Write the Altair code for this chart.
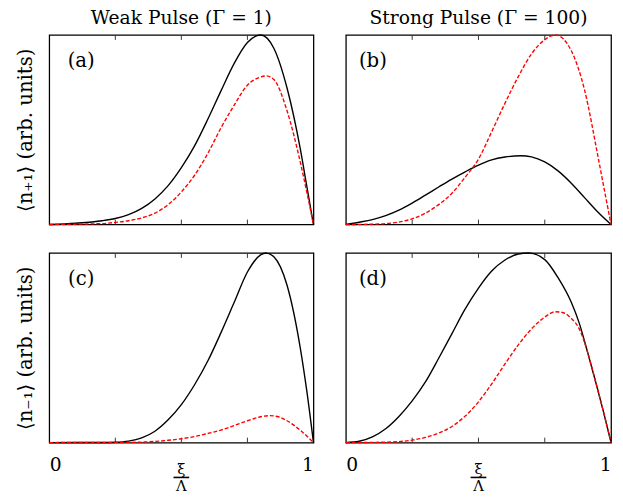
import altair as alt
import pandas as pd

FONT = "DejaVu Serif"
W1, W2, H = 269, 270, 193

# Panel (a): weak pulse, <n_+1>
a_black_x = [0, 0.1, 0.2, 0.25, 0.3, 0.35, 0.4, 0.45, 0.5, 0.55, 0.6, 0.65, 0.7, 0.75, 0.8, 0.85, 0.9, 0.95, 0.975, 1.0]
a_black_y = [0, 0.007, 0.02, 0.032, 0.052, 0.085, 0.135, 0.205, 0.3, 0.415, 0.555, 0.705, 0.85, 0.96, 1.0, 0.93, 0.72, 0.40, 0.2, 0]
a_red_x = [0, 0.2, 0.25, 0.3, 0.35, 0.4, 0.45, 0.5, 0.55, 0.6, 0.65, 0.7, 0.75, 0.8, 0.82, 0.85, 0.9, 0.95, 0.975, 1.0]
a_red_y = [0, 0.005, 0.011, 0.02, 0.035, 0.06, 0.105, 0.172, 0.26, 0.375, 0.51, 0.63, 0.735, 0.778, 0.784, 0.765, 0.60, 0.33, 0.17, 0]

# Panel (b): strong pulse, <n_+1>
b_black_x = [0, 0.05, 0.1, 0.15, 0.2, 0.25, 0.3, 0.35, 0.4, 0.45, 0.5, 0.55, 0.6, 0.66, 0.7, 0.75, 0.8, 0.85, 0.9, 0.95, 1.0]
b_black_y = [0, 0.012, 0.026, 0.047, 0.076, 0.113, 0.155, 0.198, 0.24, 0.278, 0.313, 0.341, 0.356, 0.363, 0.357, 0.33, 0.283, 0.218, 0.142, 0.066, 0]
b_red_x = [0, 0.1, 0.15, 0.2, 0.25, 0.3, 0.35, 0.4, 0.45, 0.5, 0.55, 0.6, 0.65, 0.7, 0.75, 0.79, 0.85, 0.9, 0.95, 0.975, 1.0]
b_red_y = [0, 0.002, 0.005, 0.013, 0.03, 0.06, 0.105, 0.165, 0.25, 0.345, 0.49, 0.64, 0.78, 0.9, 0.975, 1.0, 0.917, 0.71, 0.363, 0.18, 0]

# Panel (c): weak pulse, <n_-1>
c_black_x = [0, 0.2, 0.25, 0.3, 0.35, 0.4, 0.45, 0.5, 0.55, 0.6, 0.65, 0.7, 0.75, 0.8, 0.82, 0.85, 0.9, 0.95, 0.975, 1.0]
c_black_y = [0, 0.0005, 0.002, 0.008, 0.025, 0.06, 0.12, 0.2, 0.305, 0.43, 0.58, 0.74, 0.9, 0.99, 1.0, 0.98, 0.83, 0.5, 0.27, 0]
c_red_x = [0, 0.3, 0.4, 0.45, 0.5, 0.55, 0.6, 0.65, 0.7, 0.75, 0.8, 0.833, 0.87, 0.9, 0.95, 1.0]
c_red_y = [0, 0.001, 0.006, 0.012, 0.02, 0.032, 0.048, 0.066, 0.09, 0.115, 0.136, 0.142, 0.135, 0.115, 0.065, 0]

# Panel (d): strong pulse, <n_-1>
d_black_x = [0, 0.05, 0.1, 0.15, 0.2, 0.25, 0.3, 0.35, 0.4, 0.45, 0.5, 0.55, 0.6, 0.65, 0.69, 0.75, 0.8, 0.85, 0.88, 0.91, 0.94, 0.97, 1.0]
d_black_y = [0, 0.007, 0.03, 0.073, 0.138, 0.22, 0.32, 0.445, 0.575, 0.705, 0.815, 0.905, 0.963, 0.995, 1.0, 0.965, 0.87, 0.74, 0.63, 0.484, 0.33, 0.17, 0]
d_red_x = [0, 0.15, 0.2, 0.25, 0.3, 0.35, 0.4, 0.45, 0.5, 0.55, 0.6, 0.65, 0.7, 0.75, 0.79, 0.82, 0.85, 0.88, 0.91, 0.94, 0.97, 1.0]
d_red_y = [0, 0.002, 0.005, 0.013, 0.027, 0.05, 0.085, 0.14, 0.215, 0.31, 0.415, 0.515, 0.6, 0.662, 0.69, 0.685, 0.655, 0.6, 0.484, 0.33, 0.17, 0]

tick_vals = [0.25, 0.5, 0.75]
label_vals = [0, 1]
col_titles = ["Weak Pulse (Γ = 1)", "Strong Pulse (Γ = 100)"]
row_titles = ["⟨n₊₁⟩ (arb. units)", "⟨n₋₁⟩ (arb. units)"]
panel_labels = ["(a)", "(b)", "(c)", "(d)"]


def panel(bx, by, rx, ry, label, width, label_x, title=None, ytitle=None, bottom=False):
    xscale = alt.Scale(domain=[0, 1], nice=False, zero=False)
    yscale = alt.Scale(domain=[0, 1], nice=False)
    if bottom:
        xaxis = alt.Axis(values=label_vals, ticks=False, domain=False, grid=False, title=None,
                         labelExpr="datum.value == 0 ? '0' : '1'", labelFont=FONT, labelFontSize=19,
                         labelPadding=13, labelColor="black", labelBaseline="top")
    else:
        xaxis = None
    if ytitle:
        yaxis = alt.Axis(labels=False, ticks=False, domain=False, grid=False, title=ytitle,
                         titleFont=FONT, titleFontSize=20, titleFontWeight="normal",
                         titlePadding=14, titleColor="black")
    else:
        yaxis = None

    def X(f):
        return alt.X(f, scale=xscale, axis=xaxis)

    def Y(f):
        return alt.Y(f, scale=yscale, axis=yaxis)

    black = alt.Chart(pd.DataFrame({"x": bx, "y": by})).mark_line(
        color="black", strokeWidth=1.4, interpolate="monotone").encode(x=X("x:Q"), y=Y("y:Q"))
    red = alt.Chart(pd.DataFrame({"x": rx, "y": ry})).mark_line(
        color="#ff0000", strokeWidth=1.4, strokeDash=[4, 2], interpolate="monotone").encode(x=X("x:Q"), y=Y("y:Q"))
    tdf = pd.DataFrame({"x": tick_vals})
    ticks_top = alt.Chart(tdf).mark_rule(color="#333333", strokeWidth=1).encode(
        x=X("x:Q"), y=alt.value(0), y2=alt.value(5))
    ticks_bot = alt.Chart(tdf).mark_rule(color="#333333", strokeWidth=1).encode(
        x=X("x:Q"), y=alt.value(H - 5), y2=alt.value(H))
    lab = alt.Chart(pd.DataFrame({"t": [label]})).mark_text(
        font=FONT, fontSize=20, align="center", baseline="middle", color="black").encode(
        text="t:N", x=alt.value(label_x), y=alt.value(27))
    layers = [ticks_top, ticks_bot, black, red, lab]
    if bottom:
        xi = alt.Chart(pd.DataFrame({"t": ["ξ"]})).mark_text(
            font=FONT, fontSize=15, align="center", baseline="middle", color="black").encode(
            text="t:N", x=alt.datum(0.5), y=alt.value(H + 27))
        lam = alt.Chart(pd.DataFrame({"t": ["Λ"]})).mark_text(
            font=FONT, fontSize=15, align="center", baseline="middle", color="black").encode(
            text="t:N", x=alt.datum(0.5), y=alt.value(H + 44))
        bar = alt.Chart(pd.DataFrame({"t": [0]})).mark_rule(
            color="black", strokeWidth=1.6, xOffset=-8, x2Offset=8).encode(
            x=alt.datum(0.5), x2=alt.datum(0.5), y=alt.value(H + 35.5))
        layers += [xi, lam, bar]
    ch = alt.layer(*layers).properties(width=width, height=H)
    if title:
        ch = ch.properties(title=alt.TitleParams(title, font=FONT, fontSize=19, fontWeight="normal",
                                                 color="black", offset=4, anchor="middle"))
    return ch


pa = panel(a_black_x, a_black_y, a_red_x, a_red_y, panel_labels[0], W1, 32.5, title=col_titles[0], ytitle=row_titles[0])
pb = panel(b_black_x, b_black_y, b_red_x, b_red_y, panel_labels[1], W2, 27.5, title=col_titles[1])
pc = panel(c_black_x, c_black_y, c_red_x, c_red_y, panel_labels[2], W1, 32.5, ytitle=row_titles[1], bottom=True)
pd_ = panel(d_black_x, d_black_y, d_red_x, d_red_y, panel_labels[3], W2, 27.5, bottom=True)

chart = alt.concat(pa, pb, pc, pd_, columns=2, spacing={"row": 29, "column": 33}, bounds="flush").properties(
    padding={"left": 7, "top": -4, "right": 0, "bottom": 0},
    background="white",
).configure_view(stroke="black", strokeWidth=1.3)

chart.save("out.html", embed_options={"renderer": "svg", "actions": False})
